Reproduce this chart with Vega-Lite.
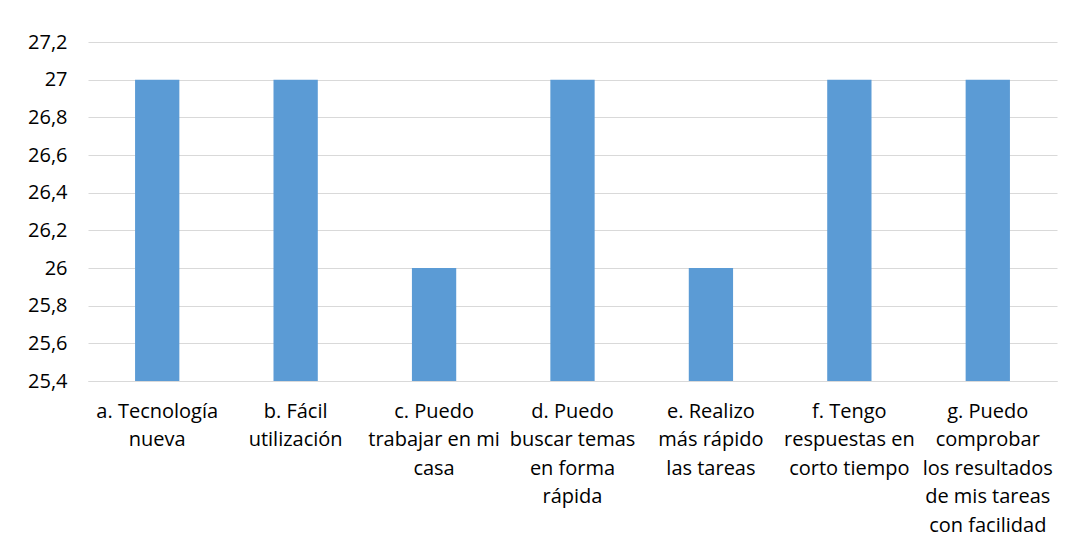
{
  "$schema": "https://vega.github.io/schema/vega-lite/v6.json",
  "width": 969,
  "height": 339,
  "autosize": {"type": "none"},
  "padding": {"left": 88, "top": 42, "right": 13, "bottom": 171},
  "background": "white",
  "config": {"view": {"stroke": null}, "font": "Open Sans"},
  "data": {
    "values": [
      {"item": "a. Tecnología|nueva", "value": 27},
      {"item": "b. Fácil|utilización", "value": 27},
      {"item": "c. Puedo|trabajar en mi|casa", "value": 26},
      {"item": "d. Puedo|buscar temas|en forma|rápida", "value": 27},
      {"item": "e. Realizo|más rápido|las tareas", "value": 26},
      {"item": "f. Tengo|respuestas en|corto tiempo", "value": 27},
      {"item": "g. Puedo|comprobar|los resultados|de mis tareas|con facilidad", "value": 27}
    ]
  },
  "mark": {"type": "bar", "color": "#5B9BD5", "clip": true},
  "encoding": {
    "x": {
      "field": "item",
      "type": "nominal",
      "sort": null,
      "scale": {"paddingInner": 0.68, "paddingOuter": 0.34},
      "axis": {
        "title": null,
        "labelAngle": 0,
        "labelExpr": "split(datum.value, '|')",
        "labelFontSize": 20,
        "labelLineHeight": 28.5,
        "labelColor": "#000000",
        "labelPadding": 20,
        "labelLimit": 0,
        "ticks": false,
        "domainColor": "#d9d9d9",
        "grid": false
      }
    },
    "y": {
      "field": "value",
      "type": "quantitative",
      "scale": {"domain": [25.4, 27.2], "zero": false, "nice": false},
      "axis": {
        "title": null,
        "values": [25.4, 25.6, 25.8, 26, 26.2, 26.4, 26.6, 26.8, 27, 27.2],
        "labelExpr": "replace(format(datum.value, '.1~f'), '.', ',')",
        "labelFontSize": 20,
        "labelColor": "#000000",
        "labelPadding": 21,
        "ticks": false,
        "domain": false,
        "gridColor": "#d9d9d9",
        "gridWidth": 1
      }
    }
  }
}
